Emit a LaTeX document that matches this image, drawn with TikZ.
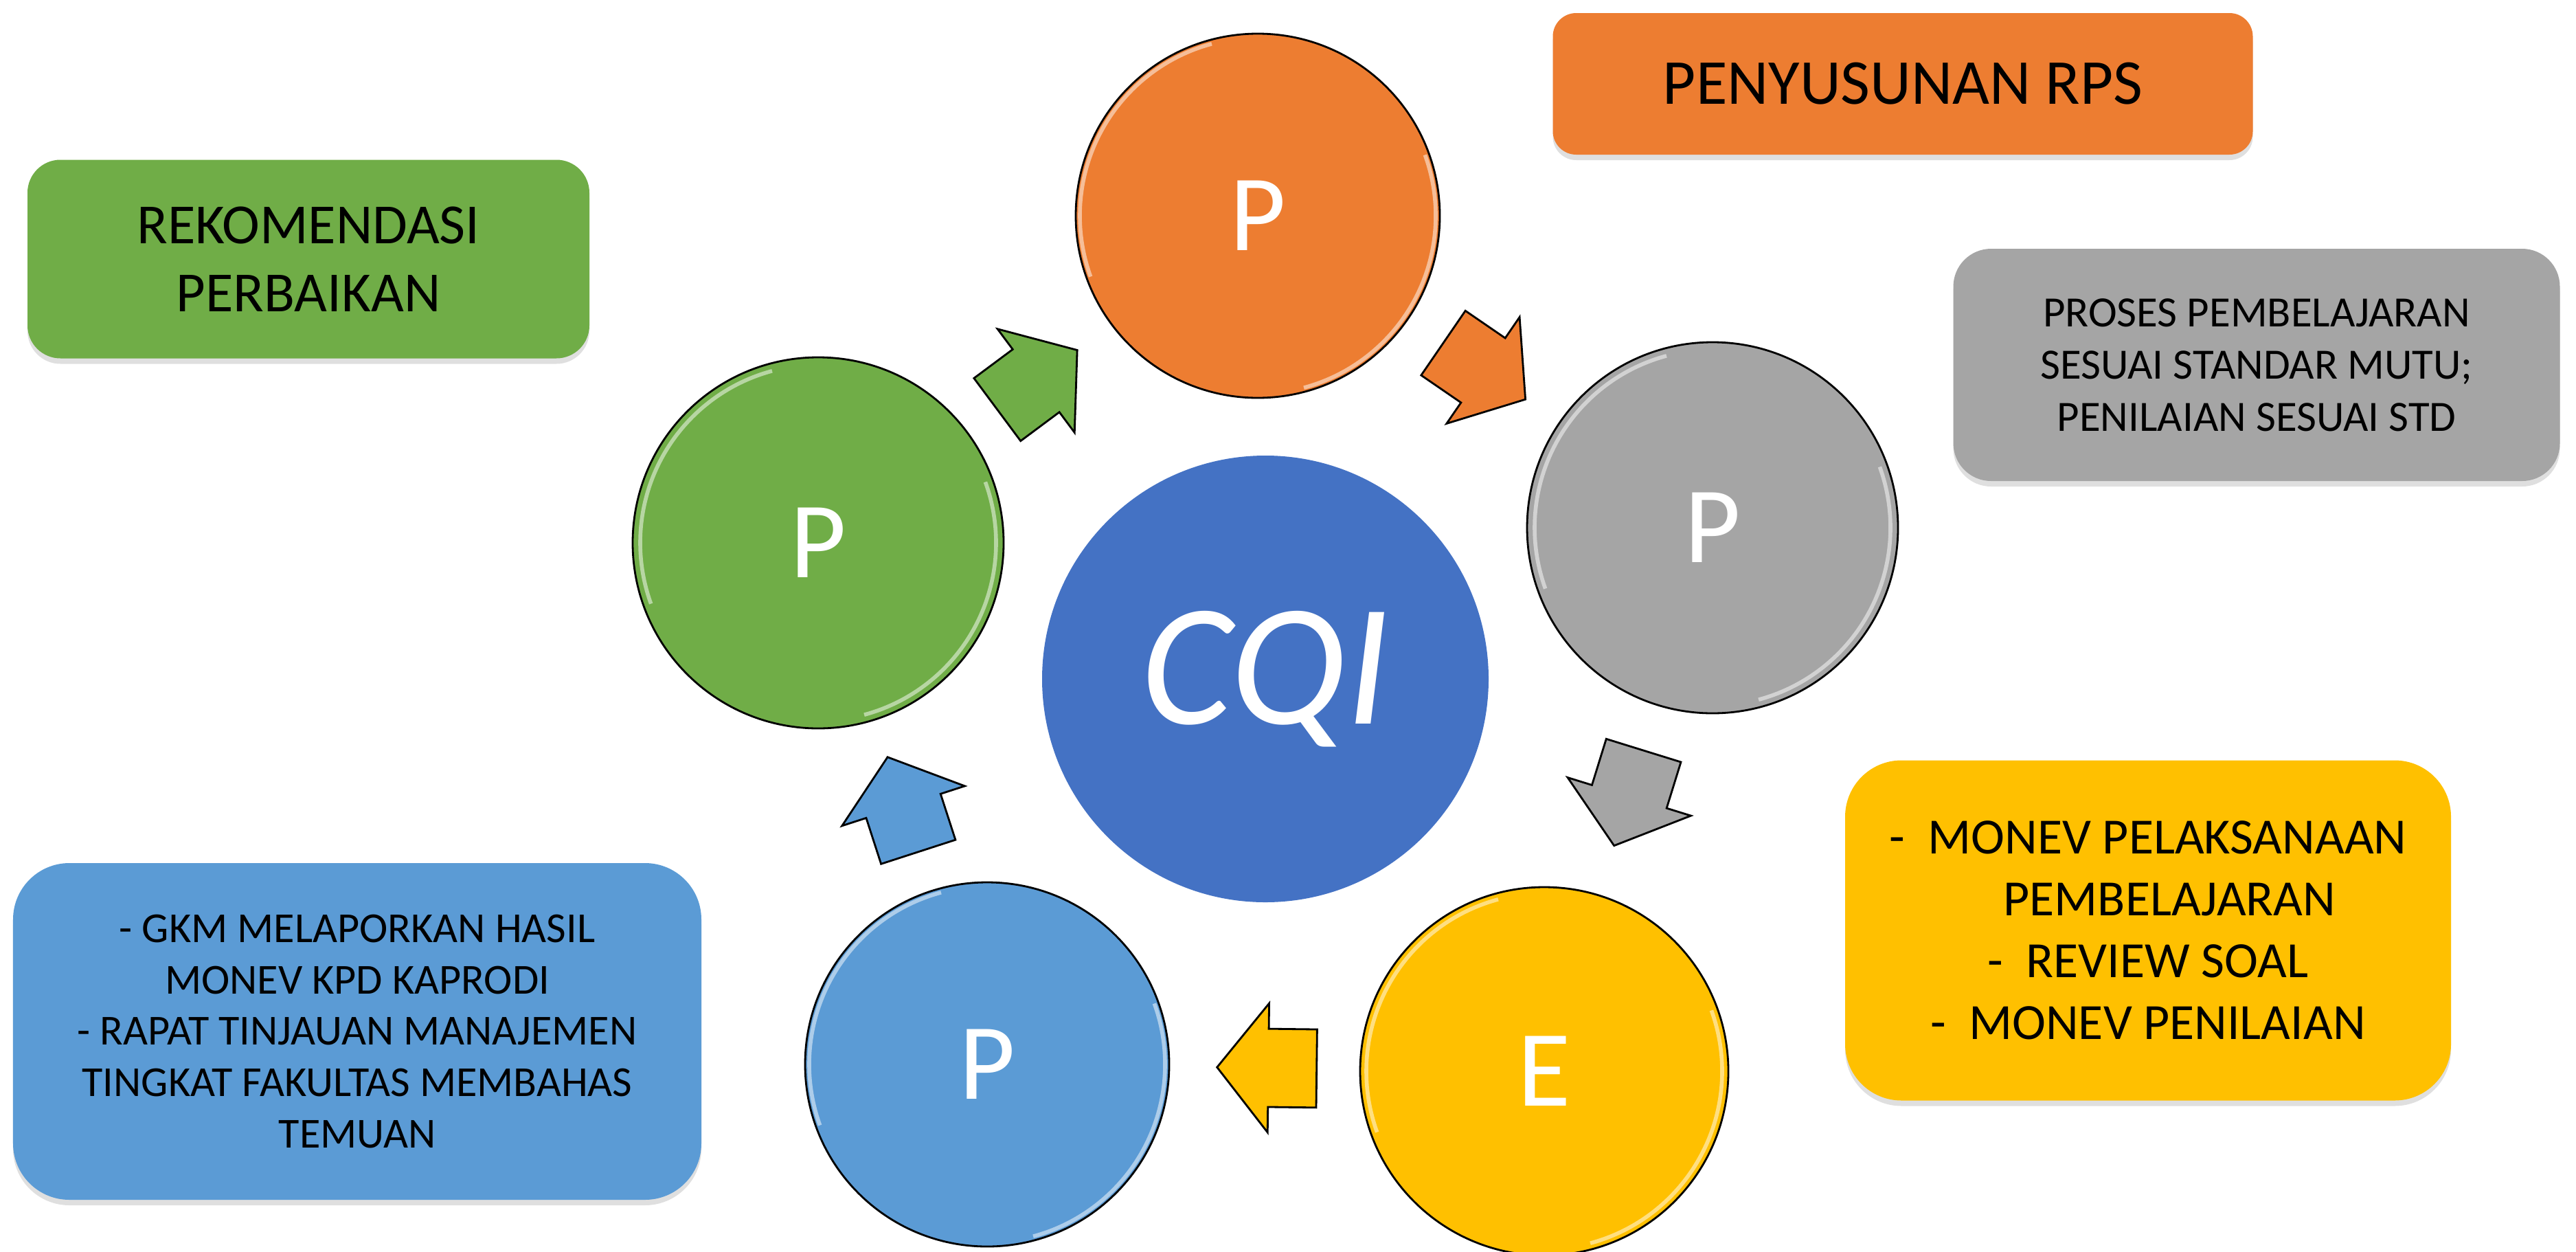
\documentclass[tikz,border=0pt]{standalone}
\usepackage{xcolor}
\usepackage{fontspec}
\setmainfont{Carlito}
\usepackage{tikz}
\usetikzlibrary{shapes.geometric, shapes.arrows, shadows}

\definecolor{blueCQI}{HTML}{4472C4}
\definecolor{orangeP}{HTML}{ED7D31}
\definecolor{grayP}{HTML}{A5A5A5}
\definecolor{yellowE}{HTML}{FFC000}
\definecolor{blueP}{HTML}{5B9BD5}
\definecolor{greenP}{HTML}{70AD47}

\begin{document}
\begin{tikzpicture}

    % Define style for circles, boxes and arrows
    \tikzstyle{core} = [circle, minimum size=6.5cm, inner sep=0pt, fill=blueCQI, text=white, font=\itshape\fontsize{72}{86}\selectfont]
    \tikzstyle{phase} = [circle, minimum size=5.4cm, inner sep=0pt, draw=black, line width=0.8pt, text=white, font=\fontsize{45}{54}\selectfont,
        path picture={\draw[white, opacity=0.5, line width=1.6pt] (path picture bounding box.center) ++(105:2.59) arc (105:200:2.59);
                      \draw[white, opacity=0.5, line width=1.6pt] (path picture bounding box.center) ++(-75:2.59) arc (-75:20:2.59);}]
    \tikzstyle{note} = [rectangle, inner sep=0pt, align=center, text=black, drop shadow={shadow xshift=0pt, shadow yshift=-0.08cm, opacity=0.25}]
    \tikzstyle{flow} = [single arrow, draw=black, line width=0.8pt, inner xsep=0pt, inner ysep=0.555cm, minimum height=1.45cm, single arrow head extend=0.37cm, single arrow tip angle=103, pos=0.47, sloped, allow upside down]

    \useasboundingbox (0,0) rectangle (37.5,-18.21);

    % Nodes
    \node (cqi) [core] at (18.42,-9.88) {CQI};
    \node (plan) [phase, fill=orangeP, minimum size=5.3cm] at (18.31,-3.14) {P};
    \node (proc) [phase, fill=grayP] at (24.93,-7.68) {P};
    \node (eval) [phase, fill=yellowE, minimum size=5.36cm] at (22.48,-15.59) {E};
    \node (report) [phase, fill=blueP, minimum size=5.3cm] at (14.37,-15.49) {P};
    \node (improve) [phase, fill=greenP] at (11.91,-7.90) {P};

    \node (rps) [note, fill=orangeP, minimum width=10.19cm, minimum height=2.06cm, rounded corners=0.34cm, font=\fontsize{26.5}{32}\selectfont] at (27.70,-1.22) {PENYUSUNAN RPS};
    \node (reko) [note, fill=greenP, minimum width=8.18cm, minimum height=2.89cm, rounded corners=0.48cm, font=\fontsize{23.5}{28.3}\selectfont] at (4.49,-3.77) {REKOMENDASI\\PERBAIKAN};
    \node (std) [note, fill=grayP, minimum width=8.83cm, minimum height=3.38cm, rounded corners=0.55cm, font=\fontsize{17.9}{21.6}\selectfont] at (32.85,-5.31) {PROSES PEMBELAJARAN\\SESUAI STANDAR MUTU;\\PENILAIAN SESUAI STD};
    \node (monev) [note, fill=yellowE, minimum width=8.82cm, minimum height=4.95cm, rounded corners=0.82cm, font=\fontsize{21}{25.6}\selectfont] at (31.27,-13.54) {-~~MONEV PELAKSANAAN\\\hspace*{0.85em}PEMBELAJARAN\\-~~REVIEW SOAL\\-~~MONEV PENILAIAN};
    \node (rtm) [note, fill=blueP, minimum width=10.02cm, minimum height=4.90cm, rounded corners=0.82cm, font=\fontsize{17.7}{21.2}\selectfont] at (5.20,-15.01) {- GKM MELAPORKAN HASIL\\MONEV KPD KAPRODI\\- RAPAT TINJAUAN MANAJEMEN\\TINGKAT FAKULTAS MEMBAHAS\\TEMUAN};

    % Lines
    \path (improve.center) -- (plan.center) node [flow, fill=greenP] (toplan) {};
    \path (plan.center) -- (proc.center) node [flow, fill=orangeP] (toproc) {};
    \path (proc.center) -- (eval.center) node [flow, fill=grayP] (toeval) {};
    \path (eval.center) -- (report.center) node [flow, fill=yellowE] (toreport) {};
    \path (report.center) -- (improve.center) node [flow, fill=blueP] (toimprove) {};

\end{tikzpicture}
\end{document}
